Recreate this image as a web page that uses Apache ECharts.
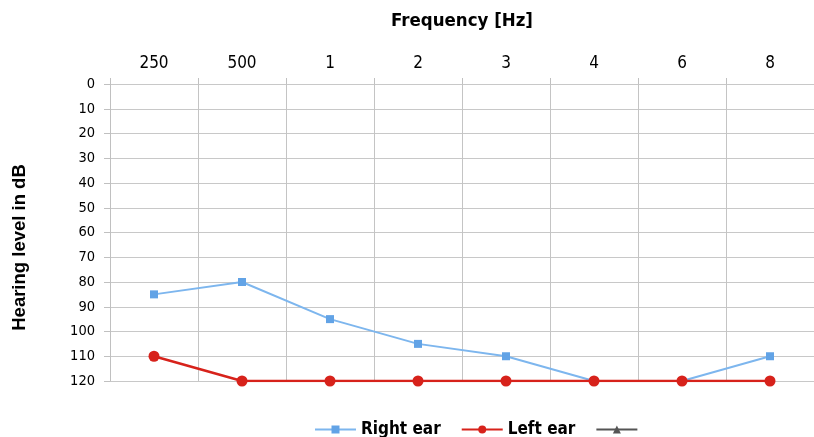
<!DOCTYPE html>
<html><head><meta charset="utf-8">
<script src="https://cdn.jsdelivr.net/npm/echarts@6/dist/echarts.min.js"></script>
<style>html,body{margin:0;padding:0;background:#fff}#c{width:814px;height:437px}</style>
</head><body><div id="c"></div>
<script>
const categories = ['250','500','1','2','3','4','6','8'];
const rightEar = [85, 80, 95, 105, 110, 120, 120, 110];
const leftEar = [110, 120, 120, 120, 120, 120, 120, 120];
const thirdSeries = [];
const yTicks = {min: 0, max: 120, interval: 10};

const narrow = '"DejaVu Sans Condensed","Liberation Sans Narrow",sans-serif';
const chart = echarts.init(document.getElementById('c'));
chart.setOption({
  animation: false,
  backgroundColor: '#fff',
  grid: {left: 110, right: -6, top: 84, bottom: 56},
  xAxis: {
    type: 'category', position: 'top', data: categories, boundaryGap: true,
    name: 'Frequency [Hz]', nameLocation: 'middle', nameGap: 53,
    nameTextStyle: {fontFamily: narrow, fontWeight: 'bold', fontSize: 18.5, color: '#000'},
    axisLine: {show: false},
    axisTick: {show: true, length: 6, lineStyle: {color: '#c0c0c0'}},
    axisLabel: {fontFamily: narrow, fontSize: 17, color: '#000', margin: 12},
    splitLine: {show: true, lineStyle: {color: '#c4c4c4', width: 1}}
  },
  yAxis: {
    type: 'value', inverse: true, min: yTicks.min, max: yTicks.max, interval: yTicks.interval,
    name: 'Hearing level in dB', nameLocation: 'middle', nameGap: 81, nameRotate: 90,
    nameTextStyle: {fontFamily: '"Liberation Sans", Arial, sans-serif', fontWeight: 'bold', fontSize: 18.5, color: '#000', padding: [0, 30, 0, 0]},
    axisLine: {show: true, lineStyle: {color: '#c0c0c0'}},
    axisTick: {show: true, length: 6, lineStyle: {color: '#c0c0c0'}},
    axisLabel: {fontFamily: narrow, fontSize: 14.5, color: '#000', margin: 15},
    splitLine: {show: true, lineStyle: {color: '#c8c8c8', width: 1}}
  },
  legend: {
    top: 416, left: 309, itemWidth: 41, itemHeight: 10, itemGap: 20,
    textStyle: {fontFamily: narrow, fontWeight: 'bold', fontSize: 17, color: '#000'},
    data: ['Right ear', 'Left ear', ' ']
  },
  series: [
    {name: 'Right ear', type: 'line', data: rightEar, symbol: 'rect', symbolSize: 8,
     color: '#7db6ee', lineStyle: {width: 2, color: '#7db6ee'}, itemStyle: {color: '#62a3e6'}},
    {name: 'Left ear', type: 'line', data: leftEar, symbol: 'circle', symbolSize: 11,
     color: '#d7221b', lineStyle: {width: 2.5, color: '#d7221b'}, itemStyle: {color: '#d7221b'}},
    {name: ' ', type: 'line', data: thirdSeries, symbol: 'triangle', symbolSize: 10,
     color: '#555', lineStyle: {width: 2, color: '#555'}, itemStyle: {color: '#555'}}
  ]
});
</script></body></html>
